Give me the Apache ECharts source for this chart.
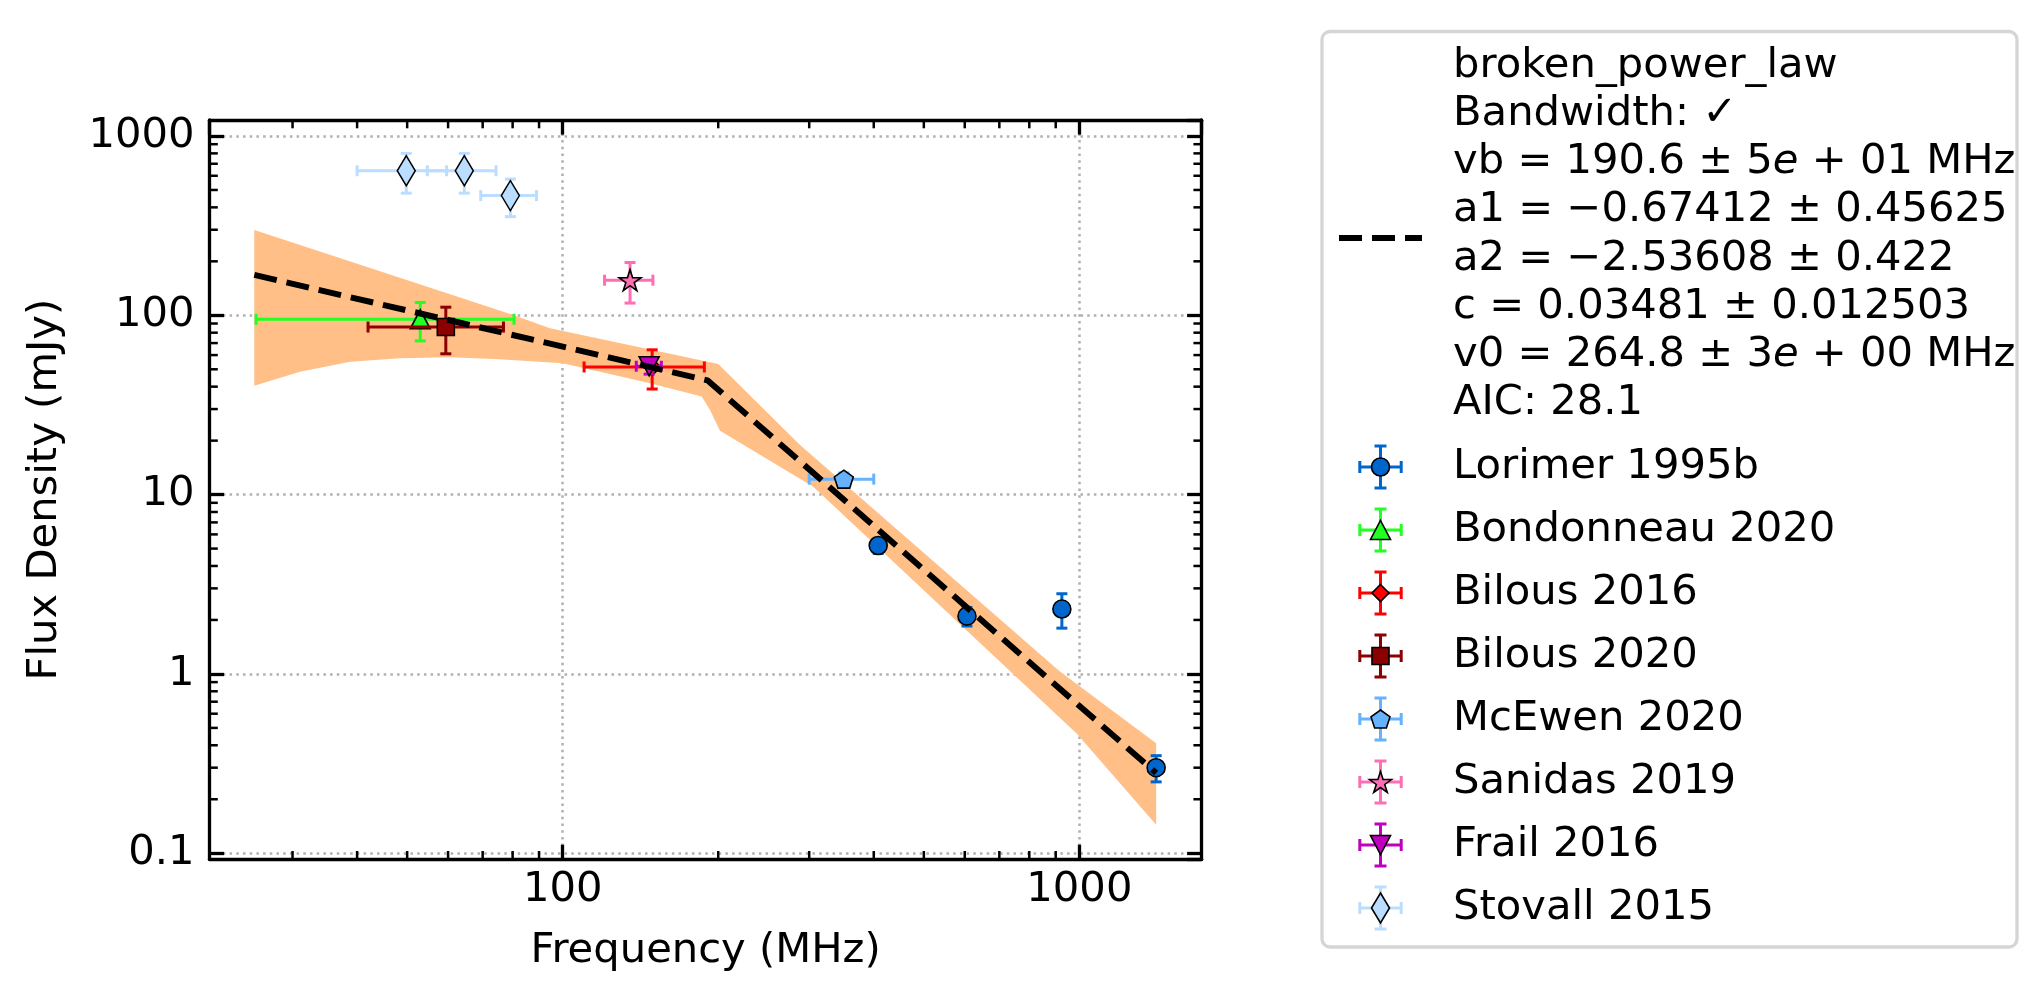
<!DOCTYPE html>
<html>
<head>
<meta charset="utf-8">
<title>Flux density spectrum</title>
<script src="https://cdn.jsdelivr.net/npm/echarts@6.0.0/dist/echarts.min.js"></script>
<style>
html,body{margin:0;padding:0;background:#fff;}
#chart{width:2043px;height:1004px;}
</style>
</head>
<body>
<div id="chart"></div>
<script>
// measurements: [frequency (MHz), flux density (mJy), frequency error, flux error]
const lorimer1995b=[[408,5.2,0,0.5],[606,2.1,0,0.25],[925,2.3,0,0.5],[1408,0.30,0,0.05]];
const bondonneau2020=[[53,95,27.5,23]];
const bilous2016=[[149,51.5,39,12.7]];
const bilous2020=[[59.4,86,17.4,25]];
const mcewen2020=[[350,12.2,50,1.0]];
const sanidas2019=[[135,157,14.5,40]];
const frail2016=[[147,52,8.2,5]];
const stovall2015=[[49.8,640,9.8,160],[64.5,640,9.8,160],[79.2,465,9.8,110]];

// fitted broken power law
const fitFreq=[25.3,190.6,1408];
const fitFlux=[168,43.4,0.28];
// uncertainty envelope of the fit
const bandUpper=[[25.3,299],[48.4,162],[80.2,100.4],[94.5,84.6],[150,63.8],[200,53.5],[288,18.9],[917,1.03],[1408,0.41]];
const bandLower=[[25.3,40.5],[31,48.5],[38.8,55.1],[48.4,57.6],[60.5,58.3],[75.6,56.8],[100,54],[147.6,41.8],[185.8,35.2],[192.8,29.6],[201.6,22.7],[305.5,11.07],[988,0.466],[1408,0.144]];

// minor tick positions
const xMinorTicks=[30,40,50,60,70,80,90,200,300,400,500,600,700,800,900];
const yMinorTicks=[0.2,0.3,0.4,0.5,0.6,0.7,0.8,0.9,2,3,4,5,6,7,8,9,20,30,40,50,60,70,80,90,200,300,400,500,600,700,800,900];

// legend text of the fit
const fitLegendLines=[
	'broken_power_law',
	'Bandwidth: ✓',
	'vb = 190.6 ± 5{it|e} + 01 MHz',
	'a1 = −0.67412 ± 0.45625',
	'a2 = −2.53608 ± 0.422',
	'c = 0.03481 ± 0.012503',
	'v0 = 264.8 ± 3{it|e} + 00 MHz',
	'AIC: 28.1'
];

const FONT='DejaVu Sans';
const FS=41.7;
const X_MIN=20.72,X_MAX=1725,Y_MIN=0.0925,Y_MAX=1228;
const MAJOR_LEN=14.6,MINOR_LEN=8.3,SPINE=3.3;
const CAP=5.5,EB_WIDTH=3;

//marker outlines in unit coordinates
const markerShapes={
	'^':[[0,-1],[1,1],[-1,1]],
	'v':[[-1,-1],[1,-1],[0,1]],
	'D':[[0,-1],[1,0],[0,1],[-1,0]],
	'd':[[0,-1],[1,0],[0,1],[-1,0]],
	's':[[-1,-1],[1,-1],[1,1],[-1,1]],
	'p':[[0,-1],[0.951,-0.309],[0.588,0.809],[-0.588,0.809],[-0.951,-0.309]],
	'*':[[0,-1],[0.2245,-0.309],[0.951,-0.309],[0.3633,0.118],[0.588,0.809],[0,0.382],[-0.588,0.809],[-0.3633,0.118],[-0.951,-0.309],[-0.2245,-0.309]]
};

const datasets=[
	{name:'Lorimer 1995b',data:lorimer1995b,color:'#0066cc',marker:'o',size:[18,18]},
	{name:'Bondonneau 2020',data:bondonneau2020,color:'#22ff22',marker:'^',size:[20,19]},
	{name:'Bilous 2016',data:bilous2016,color:'#ff0000',marker:'D',size:[17,17]},
	{name:'Bilous 2020',data:bilous2020,color:'#8b0000',marker:'s',size:[17,17]},
	{name:'McEwen 2020',data:mcewen2020,color:'#66b2ff',marker:'p',size:[19,18]},
	{name:'Sanidas 2019',data:sanidas2019,color:'#ff6eb4',marker:'*',size:[22,21]},
	{name:'Frail 2016',data:frail2016,color:'#bf00bf',marker:'v',size:[20,19]},
	{name:'Stovall 2015',data:stovall2015,color:'#bbddff',marker:'d',size:[18,30]}
];

function symbolOf(marker){
	if(marker==='o'){
		return 'circle';
	}
	let pts=markerShapes[marker];
	return 'path://M'+pts.map(function(p){return (p[0]*100).toFixed(2)+','+(p[1]*100).toFixed(2);}).join('L')+'Z';
}
/**scale a unit outline into a w*h box centred on cx,cy*/
function fitPoints(pts,cx,cy,w,h){
	let xs=pts.map(p=>p[0]),ys=pts.map(p=>p[1]);
	let x0=Math.min.apply(null,xs),x1=Math.max.apply(null,xs);
	let y0=Math.min.apply(null,ys),y1=Math.max.apply(null,ys);
	return pts.map(function(p){
		return [cx-w/2+(p[0]-x0)/(x1-x0)*w, cy-h/2+(p[1]-y0)/(y1-y0)*h];
	});
}
function seg(x1,y1,x2,y2,style,z){
	let el={type:'line',shape:{x1:x1,y1:y1,x2:x2,y2:y2},style:style};
	if(z!=null){
		el.z=z;
	}
	return el;
}
function decadeLabel(v){
	let lg=Math.log10(v);
	if(Math.abs(lg-Math.round(lg))>1e-6){
		return '';
	}
	return String(Math.pow(10,Math.round(lg)));
}

function bandItem(params,api){
	if(params.dataIndex!==0){
		return null;
	}
	let pts=bandUpper.concat(bandLower.slice().reverse()).map(function(p){return api.coord(p);});
	return {type:'polygon',shape:{points:pts},style:{fill:'#ffbf86'}};
}
function errorBarItem(params,api){
	let f=api.value(0),s=api.value(1),fe=api.value(2),se=api.value(3);
	let st={stroke:api.visual('color'),lineWidth:EB_WIDTH};
	let kids=[];
	if(fe>0){
		let a=api.coord([f-fe,s]),b=api.coord([f+fe,s]);
		kids.push(seg(a[0],a[1],b[0],b[1],st));
		kids.push(seg(a[0],a[1]-CAP,a[0],a[1]+CAP,st));
		kids.push(seg(b[0],b[1]-CAP,b[0],b[1]+CAP,st));
	}
	if(se>0){
		let a=api.coord([f,s-se]),b=api.coord([f,s+se]);
		kids.push(seg(a[0],a[1],b[0],b[1],st));
		kids.push(seg(a[0]-CAP,a[1],a[0]+CAP,a[1],st));
		kids.push(seg(b[0]-CAP,b[1],b[0]+CAP,b[1],st));
	}
	return {type:'group',children:kids};
}
function minorTickX(params,api){
	let x=api.coord([api.value(0),1])[0];
	let cs=params.coordSys;
	let st={stroke:'#000',lineWidth:2.5};
	return {type:'group',children:[
		seg(x,cs.y+cs.height,x,cs.y+cs.height-MINOR_LEN,st),
		seg(x,cs.y,x,cs.y+MINOR_LEN,st)
	]};
}
function minorTickY(params,api){
	let y=api.coord([100,api.value(1)])[1];
	let cs=params.coordSys;
	let st={stroke:'#000',lineWidth:2.5};
	return {type:'group',children:[
		seg(cs.x,y,cs.x+MINOR_LEN,y,st),
		seg(cs.x+cs.width,y,cs.x+cs.width-MINOR_LEN,y,st)
	]};
}

function makeAxis(type,position,min,max,main){
	let axis={
		type:'log',logBase:10,min:min,max:max,position:position,
		axisLine:{show:true,onZero:false,lineStyle:{color:'#000',width:SPINE}},
		axisTick:{show:true,inside:true,length:MAJOR_LEN,lineStyle:{color:'#000',width:SPINE}},
		axisLabel:{show:false},
		splitLine:{show:false},
		minorTick:{show:false}
	};
	if(main){
		axis.axisLabel={show:true,fontSize:FS,fontFamily:FONT,color:'#000',margin:type==='x'?10:15,formatter:decadeLabel,showMinLabel:false,showMaxLabel:false};
		axis.splitLine={show:true,lineStyle:{color:'#b0b0b0',width:2.5,type:[2.5,4.2]}};
		axis.nameLocation='middle';
		axis.nameTextStyle={fontSize:FS,fontFamily:FONT,color:'#000'};
		if(type==='x'){
			axis.name='Frequency (MHz)';
			axis.nameGap=71;
		}else{
			axis.name='Flux Density (mJy)';
			axis.nameGap=143;
			axis.nameRotate=90;
		}
	}
	return axis;
}

// legend drawn as graphics in the matplotlib layout
function buildLegend(){
	let els=[];
	let textStyle={fontSize:FS,fontFamily:FONT,fill:'#000',align:'left',verticalAlign:'middle'};
	let hx=1380.5,tx=1453,zTop=110;
	els.push({type:'rect',shape:{x:1322,y:31.5,width:695,height:915.5,r:8},style:{fill:'rgba(255,255,255,0.8)',stroke:'#d5d5d5',lineWidth:SPINE},z:100});
	els.push({type:'line',shape:{x1:1339,y1:238,x2:1422,y2:238},style:{stroke:'#000',lineWidth:6,lineDash:[23,10]},z:zTop});
	fitLegendLines.forEach(function(line,i){
		els.push({type:'text',x:tx,y:66+48.2*i,z:zTop,style:Object.assign({text:line,rich:{it:{fontSize:FS,fontFamily:FONT,fontStyle:'italic',fill:'#000'}}},textStyle)});
	});
	datasets.forEach(function(ds,i){
		let cy=467+63*i;
		let st={stroke:ds.color,lineWidth:EB_WIDTH};
		els.push(seg(hx-20.7,cy,hx+20.7,cy,st,zTop));
		els.push(seg(hx-20.7,cy-6,hx-20.7,cy+6,st,zTop));
		els.push(seg(hx+20.7,cy-6,hx+20.7,cy+6,st,zTop));
		els.push(seg(hx,cy-21,hx,cy+21,st,zTop));
		els.push(seg(hx-6,cy-21,hx+6,cy-21,st,zTop));
		els.push(seg(hx-6,cy+21,hx+6,cy+21,st,zTop));
		let mst={fill:ds.color,stroke:'#000',lineWidth:1.6};
		if(ds.marker==='o'){
			els.push({type:'circle',z:zTop+1,shape:{cx:hx,cy:cy,r:ds.size[0]/2},style:mst});
		}else{
			els.push({type:'polygon',z:zTop+1,shape:{points:fitPoints(markerShapes[ds.marker],hx,cy,ds.size[0],ds.size[1])},style:mst});
		}
		els.push({type:'text',x:tx,y:cy,z:zTop,style:Object.assign({text:ds.name},textStyle)});
	});
	return els;
}

let series=[];
series.push({type:'custom',name:'band',silent:true,z:5,data:bandUpper,renderItem:bandItem});
datasets.forEach(function(ds,i){
	series.push({
		type:'custom',name:ds.name+' err',silent:true,z:10+2*i,
		dimensions:['freq','flux','freqErr','fluxErr'],encode:{x:'freq',y:'flux'},
		itemStyle:{color:ds.color},data:ds.data,renderItem:errorBarItem
	});
	series.push({
		type:'scatter',name:ds.name,silent:true,z:11+2*i,
		symbol:symbolOf(ds.marker),symbolSize:ds.size,
		itemStyle:{color:ds.color,borderColor:'#000',borderWidth:1.6,opacity:1},
		emphasis:{disabled:true},
		data:ds.data.map(function(r){return [r[0],r[1]];})
	});
});
series.push({
	type:'line',name:'broken_power_law',silent:true,z:40,showSymbol:false,symbol:'none',
	lineStyle:{color:'#000',width:6,type:[23,10]},
	data:fitFreq.map(function(f,i){return [f,fitFlux[i]];})
});
series.push({type:'custom',silent:true,z:50,data:xMinorTicks.map(v=>[v,1]),renderItem:minorTickX});
series.push({type:'custom',silent:true,z:50,data:yMinorTicks.map(v=>[100,v]),renderItem:minorTickY});

let chart=echarts.init(document.getElementById('chart'));
chart.setOption({
	animation:false,
	backgroundColor:'#fff',
	grid:{left:209.5,top:120,width:992.2,height:739.3,containLabel:false,outerBoundsMode:'none'},
	xAxis:[makeAxis('x','bottom',X_MIN,X_MAX,true),makeAxis('x','top',X_MIN,X_MAX,false)],
	yAxis:[makeAxis('y','left',Y_MIN,Y_MAX,true),makeAxis('y','right',Y_MIN,Y_MAX,false)],
	series:series,
	graphic:{elements:buildLegend()}
});
</script>
</body>
</html>
